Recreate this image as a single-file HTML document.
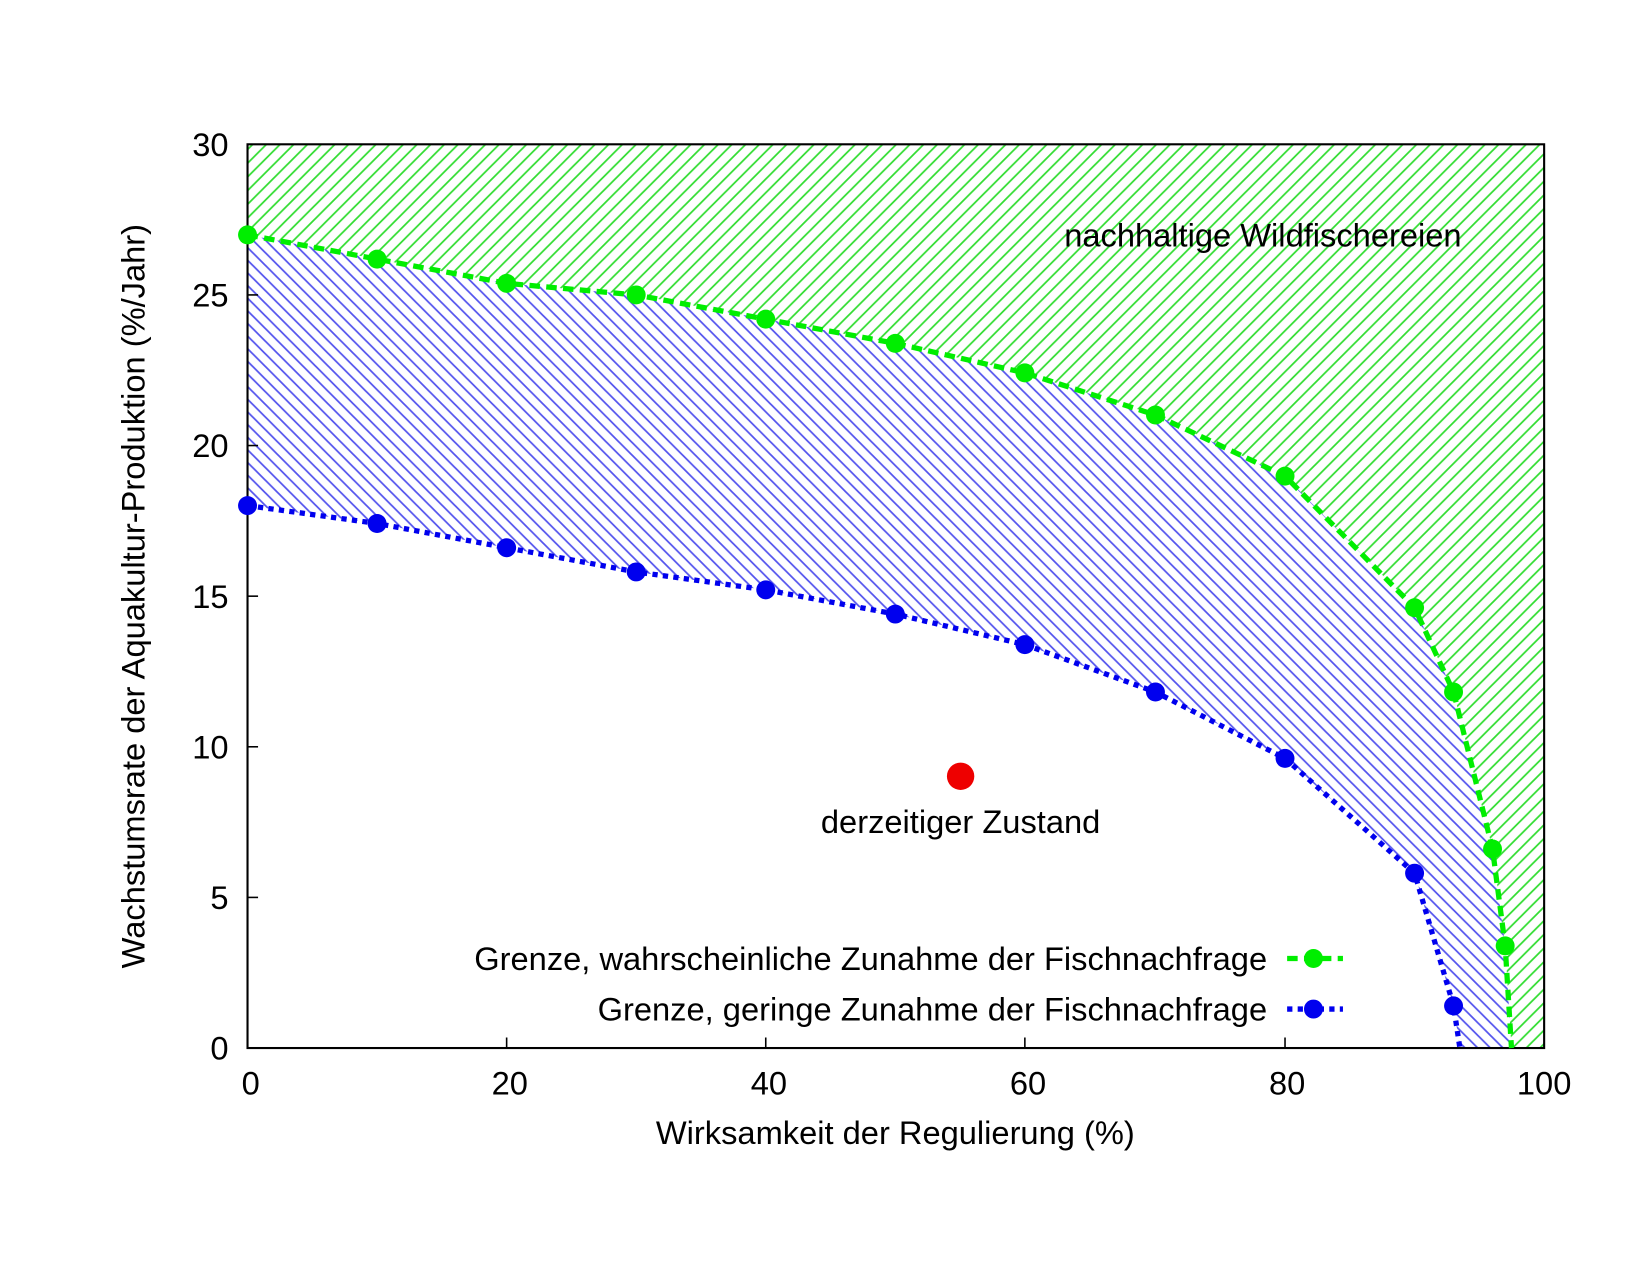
<!DOCTYPE html>
<html><head><style>body{margin:0;background:#fff}</style></head><body>
<svg width="1651" height="1275" viewBox="0 0 1651 1275" xmlns="http://www.w3.org/2000/svg" font-family="Liberation Sans, sans-serif">
<defs>
<pattern id="g" width="13" height="13" patternUnits="userSpaceOnUse">
<path d="M-3,3 L3,-3 M0,13 L13,0 M10,16 L16,10" stroke="#33dd33" stroke-width="1.7"/>
</pattern>
<pattern id="b" width="12" height="12" patternUnits="userSpaceOnUse">
<path d="M-3,9 L3,15 M0,0 L12,12 M9,-3 L15,3" stroke="#5555ee" stroke-width="1.7"/>
</pattern>
</defs>
<rect width="1651" height="1275" fill="#fff"/>
<g transform="scale(1.0533)">
<polygon fill="url(#g)" points="235,137 1466,137 1466,995 1435,995 1429,898 1417,806 1380,657 1343,577 1220,452 1097,394 973,354 850,326 727,303 604,280 481,269 358,246 235,223"/>
<polygon fill="url(#b)" points="235,223 358,246 481,269 604,280 727,303 850,326 973,354 1097,394 1220,452 1343,577 1380,657 1417,806 1429,898 1435,995 1386,995 1380,955 1343,829 1220,720 1097,657 973,612 850,583 727,560 604,543 481,520 358,497 235,480"/>
<rect x="235" y="137" width="1231" height="858" fill="none" stroke="#000" stroke-width="2"/>
<g stroke="#000" stroke-width="1.5">
<line x1="235" y1="852" x2="245" y2="852"/><line x1="235" y1="709" x2="245" y2="709"/><line x1="235" y1="566" x2="245" y2="566"/><line x1="235" y1="423" x2="245" y2="423"/><line x1="235" y1="280" x2="245" y2="280"/>
<line x1="481" y1="995" x2="481" y2="985"/><line x1="727" y1="995" x2="727" y2="985"/><line x1="973" y1="995" x2="973" y2="985"/><line x1="1220" y1="995" x2="1220" y2="985"/>
</g>
<g font-size="31" fill="#000" text-anchor="end">
<text x="217" y="1006">0</text><text x="217" y="863">5</text><text x="217" y="720">10</text><text x="217" y="577">15</text><text x="217" y="434">20</text><text x="217" y="291">25</text><text x="217" y="148">30</text>
</g>
<g font-size="31" fill="#000" text-anchor="middle">
<text x="238" y="1039">0</text><text x="484" y="1039">20</text><text x="730" y="1039">40</text><text x="976" y="1039">60</text><text x="1222" y="1039">80</text><text x="1466" y="1039">100</text>
<text x="850" y="1086">Wirksamkeit der Regulierung (%)</text>
<text transform="translate(126,566) rotate(-90)" dy="11">Wachstumsrate der Aquakultur-Produktion (%/Jahr)</text>
<text x="1199" y="234">nachhaltige Wildfischereien</text>
<text x="912" y="791">derzeitiger Zustand</text>
</g>
<polyline fill="none" stroke="#00ee00" stroke-width="5" stroke-dasharray="10,6" points="235,223 358,246 481,269 604,280 727,303 850,326 973,354 1097,394 1220,452 1343,577 1380,657 1417,806 1429,898 1435,995"/>
<polyline fill="none" stroke="#0000ee" stroke-width="5" stroke-dasharray="5,5" points="235,480 358,497 481,520 604,543 727,560 850,583 973,612 1097,657 1220,720 1343,829 1380,955 1386,995"/>
<g fill="#00ee00">
<circle cx="235" cy="223" r="9"/><circle cx="358" cy="246" r="9"/><circle cx="481" cy="269" r="9"/><circle cx="604" cy="280" r="9"/><circle cx="727" cy="303" r="9"/><circle cx="850" cy="326" r="9"/><circle cx="973" cy="354" r="9"/><circle cx="1097" cy="394" r="9"/><circle cx="1220" cy="452" r="9"/><circle cx="1343" cy="577" r="9"/><circle cx="1380" cy="657" r="9"/><circle cx="1417" cy="806" r="9"/><circle cx="1429" cy="898" r="9"/>
</g>
<g fill="#0000ee">
<circle cx="235" cy="480" r="9"/><circle cx="358" cy="497" r="9"/><circle cx="481" cy="520" r="9"/><circle cx="604" cy="543" r="9"/><circle cx="727" cy="560" r="9"/><circle cx="850" cy="583" r="9"/><circle cx="973" cy="612" r="9"/><circle cx="1097" cy="657" r="9"/><circle cx="1220" cy="720" r="9"/><circle cx="1343" cy="829" r="9"/><circle cx="1380" cy="955" r="9"/>
</g>
<circle cx="912" cy="737" r="13" fill="#ee0000"/>
<g font-size="31" fill="#000" text-anchor="end">
<text x="1203" y="921">Grenze, wahrscheinliche Zunahme der Fischnachfrage</text>
<text x="1203" y="969">Grenze, geringe Zunahme der Fischnachfrage</text>
</g>
<line x1="1222" y1="910" x2="1275" y2="910" stroke="#00ee00" stroke-width="5" stroke-dasharray="10,6"/>
<circle cx="1247" cy="910" r="9" fill="#00ee00"/>
<line x1="1222" y1="958" x2="1275" y2="958" stroke="#0000ee" stroke-width="5" stroke-dasharray="5,5"/>
<circle cx="1247" cy="958" r="9" fill="#0000ee"/>
</g>
</svg>
</body></html>
